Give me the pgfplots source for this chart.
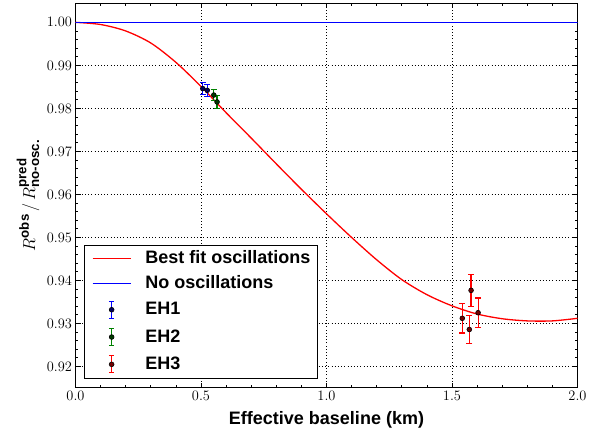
\documentclass[border=0pt]{standalone}
\usepackage{fontspec}
\usepackage{amsmath}
\usepackage{pgfplots}
\pgfplotsset{compat=1.18}
\newfontfamily\hv{Liberation Sans}
\definecolor{mgreen}{rgb}{0,0.5,0}

\pgfplotstableread{
x y
0.0 1.0000
0.1 0.9995
0.2 0.9980
0.3 0.9952
0.4 0.9907
0.5 0.9851
0.6 0.9790
0.7 0.9731
0.8 0.9671
0.9 0.9612
1.0 0.9555
1.1 0.9500
1.2 0.9448
1.3 0.9402
1.4 0.9367
1.5 0.9341
1.6 0.9322
1.7 0.9311
1.8 0.9306
1.9 0.9306
2.0 0.9312
}\bestfit

\pgfplotstableread{
x y e
0.507 0.9846 0.0014
0.525 0.9842 0.0014
}\ehone
\pgfplotstableread{
x y e
0.551 0.9831 0.0013
0.564 0.9815 0.0015
}\ehtwo
\pgfplotstableread{
x y e
1.541 0.9312 0.0034
1.569 0.9286 0.0033
1.576 0.9377 0.0037
1.604 0.9325 0.0034
}\ehthree

\pgfplotsset{
  ehimage/.style 2 args={legend image code/.code={
    \path[draw=none, fill=none] (0pt,0pt) -- (38pt,0pt);
    \draw[#1, line width=1.3pt] (19pt,-8.5pt) -- (19pt,8.5pt);
    \draw[#1, line width=1.3pt] (16.3pt,-8.5pt) -- (21.7pt,-8.5pt) (16.3pt,8.5pt) -- (21.7pt,8.5pt);
    \filldraw[draw=black, fill=#2, line width=0.6pt] (19pt,0pt) circle (2.4pt);
  }},
}

\begin{document}
\begin{tikzpicture}
\begin{axis}[
  scale only axis, width=502pt, height=385pt,
  xmin=0, xmax=2, ymin=0.915, ymax=1.0045,
  xtick={0,0.5,1,1.5,2},
  ytick={0.92,0.93,0.94,0.95,0.96,0.97,0.98,0.99,1.00},
  minor x tick num=4, minor y tick num=4,
  scaled ticks=false,
  tick align=inside, major tick length=5pt, minor tick length=2.5pt,
  every tick/.style={black, line width=0.8pt},
  grid=major,
  major grid style={black, line width=0.7pt, dash pattern=on 0.8pt off 2.4pt},
  axis line style={line width=1pt},
  ticklabel style={font=\fontsize{14.5}{16}\selectfont},
  xticklabel style={/pgf/number format/.cd, fixed, fixed zerofill, precision=1},
  yticklabel style={/pgf/number format/.cd, fixed, fixed zerofill, precision=2},
  xlabel={\hv\bfseries Effective baseline (km)},
  xlabel style={font=\fontsize{18}{20}\selectfont, at={(axis description cs:0.5,0)}, anchor=base, yshift=-36.6pt},
  ylabel={$R^{\text{\hv\bfseries obs}}\,/\,R^{\text{\hv\bfseries pred}}_{\text{\hv\bfseries no-osc.}}$},
  ylabel style={font=\fontsize{19}{21}\selectfont, at={(axis description cs:-0.0946,0.5)}, anchor=center},
  legend style={at={(axis description cs:0.0169,0.0234)}, anchor=south west,
    draw=black, line width=1pt, fill=white,
    font=\hv\bfseries\fontsize{18}{20}\selectfont,
    inner xsep=7.5pt, inner ysep=5pt, row sep=9pt, column sep=14pt,
    nodes={inner sep=0pt, text height=13pt, text depth=3pt}},
  legend cell align=left,
  legend image code/.code={\draw[#1] (0pt,0pt) -- (38pt,0pt);},
]
\addplot[red, line width=1.3pt, smooth] table[x=x,y=y]{\bestfit};
\addlegendentry{Best fit oscillations}
\addplot[blue, line width=1.3pt] coordinates {(0,1.0) (2,1.0)};
\addlegendentry{No oscillations}

\addplot[blue, only marks, mark=*, mark size=2.4pt,
  mark options={draw=black, fill=blue!35!black, line width=0.6pt},
  ehimage={blue}{blue!35!black},
  error bars/.cd, y dir=both, y explicit,
  error bar style={blue, line width=1.2pt},
  error mark options={rotate=90, mark size=3pt, blue, line width=1.2pt}]
  table[x=x, y=y, y error=e]{\ehone};
\addlegendentry{EH1}
\addplot[mgreen, only marks, mark=*, mark size=2.4pt,
  mark options={draw=black, fill=mgreen!45!black, line width=0.6pt},
  ehimage={mgreen}{mgreen!45!black},
  error bars/.cd, y dir=both, y explicit,
  error bar style={mgreen, line width=1.2pt},
  error mark options={rotate=90, mark size=3pt, mgreen, line width=1.2pt}]
  table[x=x, y=y, y error=e]{\ehtwo};
\addlegendentry{EH2}
\addplot[red, only marks, mark=*, mark size=2.4pt,
  mark options={draw=black, fill=red!45!black, line width=0.6pt},
  ehimage={red}{red!45!black},
  error bars/.cd, y dir=both, y explicit,
  error bar style={red, line width=1.2pt},
  error mark options={rotate=90, mark size=3pt, red, line width=1.2pt}]
  table[x=x, y=y, y error=e]{\ehthree};
\addlegendentry{EH3}
\end{axis}
\path[use as bounding box] ([xshift=-75.5pt,yshift=-48pt]current axis.south west) rectangle ++(613pt,436pt);
\end{tikzpicture}
\end{document}
